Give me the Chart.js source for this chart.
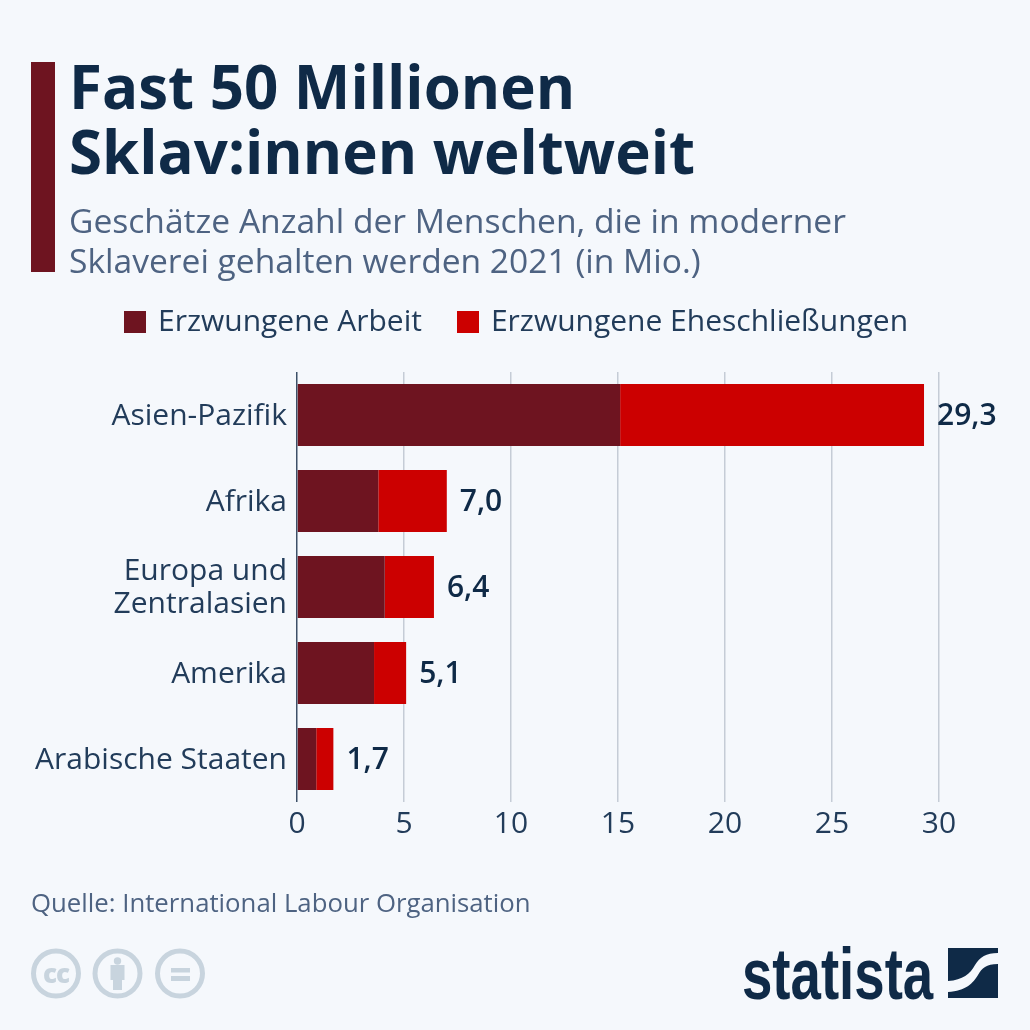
<!DOCTYPE html>
<html lang="de">
<head>
<meta charset="utf-8">
<title>Sklaverei</title>
<script src="https://cdn.jsdelivr.net/npm/chart.js@4"></script>
<style>
  html, body { margin: 0; padding: 0; background: #f5f8fc; }
  body { width: 1030px; height: 1030px; position: relative; overflow: hidden; font-family: "Open Sans", sans-serif; }
  #chart { position: absolute; left: 0; top: 0; }
  .abs { position: absolute; white-space: nowrap; }
  #accent { left: 31px; top: 62px; width: 24px; height: 210px; background: #6e1420; }
  #title { left: 69px; top: 54px; font-size: 60px; line-height: 65px; font-weight: 700; color: #0f2a47; }
  #subtitle { left: 69px; top: 200px; font-size: 33.6px; line-height: 40px; color: #4e6382; }
  #legend { left: 124px; top: 301px; font-size: 30px; line-height: 38px; color: #223c5a; display: flex; }
  #legend span.box { display: inline-block; width: 22px; height: 22px; margin-right: 12px; position: relative; top: 2px; }
  #legend div { margin-right: 35px; }
  #source { left: 31px; top: 885px; font-size: 25.75px; line-height: 34px; color: #4e6382; }
  #logotext { left: 742px; top: 935px; font-family: "Liberation Sans", sans-serif; font-weight: 700; font-size: 70px; line-height: 76px; color: #0f2a47; transform-origin: left top; transform: scale(0.78, 1.03); }
</style>
</head>
<body>
<canvas id="chart" width="1030" height="1030"></canvas>
<div class="abs" id="accent"></div>
<div class="abs" id="title">Fast 50 Millionen<br>Sklav:innen weltweit</div>
<div class="abs" id="subtitle">Geschätze Anzahl der Menschen, die in moderner<br>Sklaverei gehalten werden 2021 (in Mio.)</div>
<div class="abs" id="legend"></div>
<div class="abs" id="source">Quelle: International Labour Organisation</div>
<svg class="abs" style="left:28px;top:946px" width="180" height="56" viewBox="0 0 180 56">
  <g fill="none" stroke="#c8d4de" stroke-width="5">
    <circle cx="28" cy="27.5" r="22.5"/><circle cx="89.5" cy="27.5" r="22.5"/><circle cx="152" cy="27.5" r="22.5"/>
  </g>
  <g fill="#c8d4de">
    <text x="28" y="36.5" text-anchor="middle" font-family="Open Sans" font-weight="800" font-size="26" letter-spacing="-1">cc</text>
    <circle cx="89.5" cy="15" r="3.7"/><rect x="82.5" y="19" width="14" height="15"/><rect x="85" y="34" width="9" height="10"/>
    <rect x="143" y="22" width="19" height="4.5"/><rect x="143" y="30" width="19" height="5"/>
  </g>
</svg>
<div class="abs" id="logotext">statista</div>
<svg class="abs" style="left:948px;top:948px" width="50" height="50" viewBox="0 0 50 50">
  <rect width="50" height="50" fill="#0f2a47"/>
  <path d="M50 5 C38 5 32 9 27 17 C22 26 15 32 0 33 L0 44 C18 43 25 35 30 27 C34 20 38 16 50 16 Z" fill="#f5f8fc"/>
</svg>
<script>
const categories = ["Asien-Pazifik", "Afrika", ["Europa und", "Zentralasien"], "Amerika", "Arabische Staaten"];
const forcedLabour = [15.1, 3.8, 4.1, 3.6, 0.9];
const forcedMarriage = [14.2, 3.2, 2.3, 1.5, 0.8];
const totals = [29.3, 7.0, 6.4, 5.1, 1.7];
const xTicks = [0, 5, 10, 15, 20, 25, 30];
const seriesNames = ["Erzwungene Arbeit", "Erzwungene Eheschließungen"];
const seriesColors = ["#6e1420", "#cc0000"];

const legend_element = document.getElementById("legend");
seriesNames.forEach((name, i) => {
  const item = document.createElement("div");
  item.innerHTML = `<span class="box" style="background:${seriesColors[i]}"></span>${name}`;
  legend_element.appendChild(item);
});

// totals next to the bars
const totalLabels = {
  id: "totalLabels",
  afterDatasetsDraw(chart) {
    const c = chart.ctx;
    c.save();
    c.font = "600 30px 'Open Sans'";
    c.fillStyle = "#0f2a47";
    c.textBaseline = "middle";
    totals.forEach((total, i) => {
      const x = chart.scales.x.getPixelForValue(total);
      const y = chart.scales.y.getPixelForValue(i);
      c.fillText(total.toFixed(1).replace(".", ","), x + 13, y + 1);
    });
    c.restore();
  }
};

new Chart(document.getElementById("chart").getContext("2d"), {
  type: "bar",
  data: {
    labels: categories,
    datasets: [
      { label: seriesNames[0], data: forcedLabour, backgroundColor: seriesColors[0] },
      { label: seriesNames[1], data: forcedMarriage, backgroundColor: seriesColors[1] }
    ]
  },
  options: {
    indexAxis: "y",
    responsive: false,
    animation: false,
    categoryPercentage: 1,
    barPercentage: 0.72,
    layout: { padding: { top: 372, right: 91, bottom: 0, left: 0 } },
    plugins: { legend: { display: false }, tooltip: { enabled: false } },
    scales: {
      x: {
        stacked: true,
        min: 0,
        max: 30,
        afterFit: (scale) => { scale.height = 228; },
        afterBuildTicks: (scale) => { scale.ticks = xTicks.map((value) => ({ value })); },
        grid: {
          drawTicks: false,
          lineWidth: 1.5,
          color: (ctx) => ctx.tick && ctx.tick.value === 0 ? "#3d5068" : "#c5ccd6"
        },
        border: { display: false },
        ticks: { color: "#223c5a", font: { family: "Open Sans", size: 30 }, padding: 4, maxRotation: 0 }
      },
      y: {
        stacked: true,
        afterFit: (scale) => { scale.width = 297; },
        grid: { display: false },
        border: { display: false },
        ticks: { color: "#223c5a", font: { family: "Open Sans", size: 30, lineHeight: 1.07 }, padding: 2, labelOffset: 1 }
      }
    }
  },
  plugins: [totalLabels]
});
</script>
</body>
</html>
